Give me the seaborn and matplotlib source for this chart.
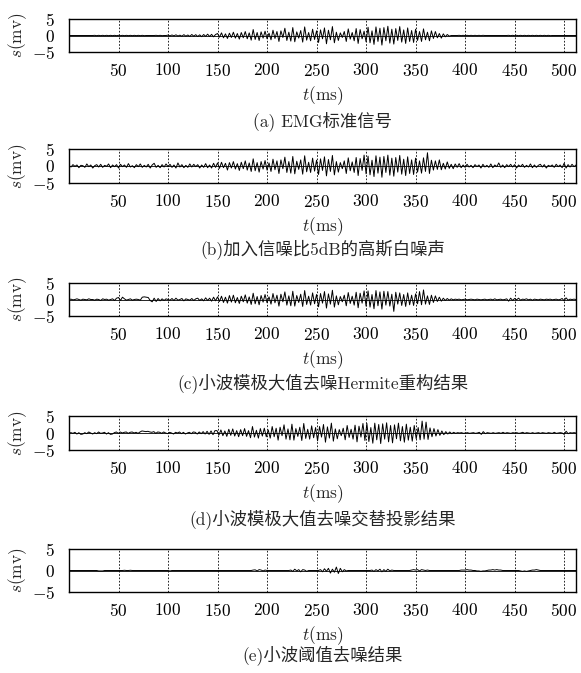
import numpy as np
import seaborn as sns
import matplotlib.pyplot as plt

# signals are sampled evenly over 0..512 ms
duration_ms = 512

# (a) clean EMG
emg_clean = [
    0, 0, 0, 0, 0, 0, 0, 0, 0, 0, 0, 0, 0,
    0.05, -0.05, 0.05, -0.05, 0.05, -0.05, 0.05, -0.05, 0.05, -0.05, 0.05, -0.05, 0.05,
    -0.05, 0.05, -0.05, 0.05, -0.05, 0.05, -0.05, 0.05, -0.05, 0.05, -0.05, 0.05, -0.05,
    0, 0, 0, 0, 0,
    0.05, -0.05, 0.05, -0.05,
    0, 0,
    0.1, -0.1, 0.15, -0.1, 0.2, -0.15, 0.1, -0.2, 0.25, -0.2, 0.15, -0.25, 0.3,
    -0.2, 0.25, -0.3, 0.2, -0.35, 0.3, -0.25, 0.4, -0.3, 0.35, -0.4, 0.3,
    0.6, -0.5, 0.8, -0.7, 0.5, -0.9, 0.7, -0.6, 1.0, -0.8, 0.6, -1.1, 0.9,
    -0.7, 1.2, -1.0, 0.8, -1.4, 1.8, -1.2, 0.9, -1.5, 1.1, -0.8, 1.3,
    -1.0, 0.7, -1.3, 1.6, -0.9, 1.2, -1.8, 1.4, -0.6, 2.2, -1.5, 1.0, -1.7,
    2.4, -1.9, 1.1, -0.8, 1.5, -2.0, 2.6, -1.4, 0.9, -1.6, 1.9, -1.2,
    1.4, -2.1, 1.7, -1.0, 2.3, -2.5, 1.6, -1.3, 2.7, -2.2, 1.0, -1.5, 0.8,
    -0.6, 1.2, -1.8, 2.0, -1.1, 0.9, -1.6, 2.1, -2.4, 1.8, -1.0, 1.3,
    -1.9, 2.5, -2.2, 1.4, -2.7, 2.6, -1.8, 2.2, -2.9, 2.4, -1.6, 2.8, -2.3,
    1.9, -2.6, 2.1, -1.5, 2.7, -2.0, 1.7, -2.4, 2.3, -1.8, 1.5, -2.1,
    1.9, -1.5, 1.2, -1.8, 2.0, -1.3, 1.0, -1.6, 1.4, -0.9, 1.2, -0.7, 0.6,
    -0.8, 0.5, -0.4, 0.3, -0.2,
    0, 0, 0, 0,
    0.05, -0.05, 0.05, -0.05, 0.05, -0.05, 0.05, -0.05, 0.05, -0.05, 0.05, -0.05, 0.05,
    0, 0, 0, 0, 0, 0, 0, 0, 0, 0, 0, 0,
    0.05, -0.05, 0.05, -0.05, 0.05, -0.05, 0.05, -0.05, 0.05, -0.05, 0.05,
    -0.05, 0.05, -0.05, 0.05, -0.05, 0.05, -0.05, 0.05, -0.05, 0.05, -0.05,
    0, 0, 0, 0, 0, 0, 0, 0, 0, 0, 0, 0, 0,
]

# (b) with 5 dB gaussian white noise
emg_noisy = [
    0.2, -0.3, 0.4, -0.1, 0.3, -0.5, 0.2, 0.1, -0.4, 0.6, -0.2, 0.3, -0.6,
    0.1, 0.4, -0.3, 0.5, -0.4, 0.2, -0.1, 0.6, -0.5, 0.3, -0.2, 0.4,
    -0.6, 0.5, -0.2, 0.3, -0.4, 0.7, -0.3, 0.1, -0.5, 0.4, -0.2, 0.6, -0.4,
    0.2, -0.3, 0.5, -0.6, 0.3, 0.8, -0.4, 0.2, -0.5, 0.4, -0.3, 0.6,
    -0.2, 0.5, -0.4, 0.3, -0.6, 0.9, -0.3, 0.4, -0.5, 0.2, -0.4, 0.6, -0.3,
    0.5, -0.2, 0.4, -0.6, 0.3, -0.4, 0.7, -0.5, 0.3, -0.6, 0.8, -0.4,
    0.9, -0.7, 1.1, -0.5, 0.8, -1.2, 1.0, -0.6, 1.3, -0.9, 0.7, -1.3, 1.1,
    -0.8, 1.5, -1.2, 0.9, -1.6, 2.1, -1.4, 1.0, -1.8, 1.3, -0.9, 1.6,
    -1.2, 0.9, -1.6, 2.0, -1.1, 1.5, -2.2, 1.8, -0.8, 2.6, -1.9, 1.3, -2.1,
    2.8, -2.3, 1.4, -1.0, 1.8, -2.4, 3.0, -1.7, 1.1, -1.9, 2.3, -1.5,
    1.7, -2.5, 2.1, -1.3, 2.7, -2.9, 1.9, -1.6, 3.1, -2.6, 1.3, -1.8, 1.0,
    -0.8, 1.5, -2.2, 2.4, -1.4, 1.2, -1.9, 2.5, -2.8, 2.2, -1.3, 3.2,
    -2.3, 2.9, -2.6, 1.7, -3.1, 3.0, -2.1, 2.6, -3.3, 2.8, -1.9, 3.2, -2.7,
    2.3, -3.0, 2.5, -1.8, 3.1, -2.4, 2.0, -2.8, 2.7, -2.2, 1.8, -2.5,
    2.3, -1.8, 1.5, -2.1, 2.4, -1.6, 3.9, -2.2, 1.7, -1.2, 1.5, -1.0, 1.8,
    -1.1, 0.8, -0.9, 1.2, -0.7, 0.5, -0.8, 0.6, -0.4, 0.7, -0.5, 0.3,
    -0.4, 0.5, -0.3, 0.2, -0.5, 0.4, -0.2, 0.3, -0.6, 0.5, -0.3, 0.2, -0.4,
    0.6, -0.5, 0.3, -0.2, 0.9, -0.4, 0.3, -0.5, 0.4, -0.2, 0.5, -0.3,
    0.4, -0.6, 0.3, -0.2, 0.5, -0.4, 0.2, -0.3, 0.6, -0.5, 0.3, -0.4, 0.2,
    0.5, -0.3, 0.4, -0.6, 0.2, -0.1, 0.3, -0.4, 0.5, -0.2, 0.3, -0.5,
    0.8, -0.6, 0.4, -0.3, 0.5, -0.2, 0.3,
]

# (c) wavelet modulus maxima + Hermite reconstruction
emg_hermite = [
    0, 0.1, -0.1, 0, 0.2, 0, -0.2, 0.1, 0, -0.1, 0.2, 0, 0,
    -0.2, 0.1, 0, -0.3, 0.2, 0, 0.1, -0.2, 0, 0.2, -0.3, 0.4,
    0.6, -0.3, 0.7, 0.2, -0.2, 0, 0.2, -0.2, 0, 0.1, 0, -0.2, 0.7,
    0.8, 0.7, 0.6, -0.3, -0.7, 0.4, -0.6, 0.3, -0.4, 0.2, -0.3, 0.2,
    0, -0.2, 0.3, -0.3, 0.4, -0.2, 0, 0.3, -0.4, 0.2, 0, -0.2, 0.3,
    -0.3, 0.2, 0.4, -0.3, 0.2, -0.4, 0.5, -0.3, 0.4, -0.5, 0.7, -0.4,
    0.8, -0.6, 1.0, -0.9, 0.7, -1.1, 1.2, -0.8, 1.3, -1.0, 0.6, -1.2, 1.0,
    -0.7, 1.4, -1.1, 0.8, -1.5, 1.9, -1.3, 0.9, -1.6, 1.2, -0.8, 1.5,
    -1.0, 0.8, -1.4, 1.8, -1.0, 1.3, -2.0, 1.6, -0.7, 2.3, -1.7, 1.1, -1.9,
    2.5, -2.0, 1.2, -0.9, 1.6, -2.1, 2.7, -1.5, 1.0, -1.7, 2.0, -1.3,
    1.5, -2.2, 1.8, -1.1, 2.4, -2.6, 1.7, -1.4, 2.8, -2.3, 1.1, -1.6, 0.9,
    -0.7, 1.3, -1.9, 2.1, -1.2, 1.0, -1.7, 2.2, -2.5, 1.9, -1.1, 2.6,
    -2.0, 2.6, -2.3, 1.5, -2.8, 2.7, -1.9, 2.3, -2.9, 2.5, -1.7, 2.4, -2.0,
    1.6, -3.6, 2.2, -1.4, 2.0, -1.8, 1.5, -2.1, 2.0, -1.6, 1.3, -1.8,
    1.7, -1.3, 2.4, -1.6, 2.9, -1.4, 1.1, -1.5, 1.3, -0.9, 1.1, -0.6, 0.7,
    -0.5, 0.4, -0.3, 0.3, -0.2, 0.2, -0.1, 0.1, 0, 0.1, -0.1, 0,
    0.1, -0.1, 0, 0.1, 0, -0.1, 0.1, 0, -0.1, 0, 0.1, -0.1, 0,
    0.1, -0.1, 0.2, -0.1, 0, 0.1, -0.1, 0, 0.2, -0.5, 0.4, -0.3,
    0.3, -0.1, 0.4, -0.2, 0.1, 0, 0.2, -0.1, 0.1, -0.2, 0.1, 0, -0.1,
    0.1, 0, -0.1, 0.1, 0, 0.1, -0.1, 0, 0.1, -0.1, 0, 0.3,
    -0.4, 0.5, -0.2, 0.1, 0, 0.1, 0,
]

# (d) wavelet modulus maxima + alternating projection
emg_projection = [
    0, 0.1, -0.1, 0.2, -0.3, 0.1, -0.4, -0.3, 0.1, -0.2, 0.3, 0, -0.3,
    0.1, -0.2, 0.3, -0.1, 0, 0.2, -0.3, 0.1, -0.4, -0.3, 0.1, 0.3,
    -0.1, 0.3, 0, 0.2, 0.3, -0.1, 0.2, 0.3, 0, 0.2, -0.1, 0.3, 0.6,
    0.5, 0.4, 0.5, 0.3, 0.2, 0.4, -0.1, 0.3, 0.2, -0.1, 0.3, 0,
    -0.2, 0.2, 0, -0.3, 0.2, 0, 0.3, -0.2, 0.2, -0.3, 0, 0.2, -0.2,
    0.3, 0.2, -0.3, 0.3, -0.2, 0.4, -0.3, 0.5, -0.4, 0.6, -0.5, 0.7,
    0.7, -0.6, 0.9, -0.8, 0.6, -1.0, 1.1, -0.7, 1.2, -0.9, 0.7, -1.1, 1.0,
    -0.8, 1.3, -1.0, 0.7, -1.4, 1.9, -1.2, 0.8, -1.5, 1.3, -0.9, 1.4,
    -1.1, 0.9, -1.5, 1.9, -1.1, 1.4, -2.1, 1.7, -0.8, 2.4, -1.8, 1.2, -2.0,
    2.6, -2.1, 1.3, -1.0, 1.7, -2.2, 2.8, -1.6, 1.1, -1.8, 2.1, -1.4,
    1.6, -2.3, 1.9, -1.2, 2.5, -2.7, 1.8, -1.5, 2.9, -2.4, 1.2, -1.7, 1.0,
    -0.8, 1.4, -2.0, 2.2, -1.3, 1.1, -1.8, 2.3, -2.6, 2.0, -1.2, 2.8,
    -2.2, 2.8, -2.5, 1.6, -3.0, 2.9, -2.0, 2.5, -3.1, 2.7, -1.8, 3.0, -2.6,
    2.2, -2.9, 2.4, -1.7, 2.9, -2.3, 1.9, -2.7, 2.6, -2.1, 1.7, -2.4,
    2.2, -1.7, 1.6, -2.0, 3.5, -1.8, 3.2, -1.9, 1.5, -1.1, 1.3, -0.9, 1.0,
    -0.7, 0.6, -0.5, 0.4, -0.3, 0.3, -0.2, 0.2, -0.1, 0.1, 0, 0.1,
    -0.1, 0, 0.1, -0.1, 0, 0.1, -0.1, 0, 0.2, -0.4, 0.4, -0.2, 0.1,
    0, -0.1, 0.1, -0.1, 0, 0.1, -0.1, 0.2, -0.1, 0.1, 0, -0.1, 0.1,
    0, 0.1, -0.1, 0, 0.2, -0.1, 0.1, 0, -0.1, 0.1, -0.1, 0, 0.1,
    -0.1, 0.1, 0, -0.1, 0.1, 0, -0.1, 0.2, -0.1, 0, 0.1, 0,
    -0.4, 0.5, -0.2, 0.1, 0, 0.1, 0,
]

# (e) wavelet threshold denoising
emg_threshold = [
    0, 0, 0, 0, 0, 0, 0, 0, 0, 0, 0, 0, 0,
    0, 0, -0.1, -0.1, -0.1, 0, 0, 0, 0, 0, 0, 0,
    0, 0, 0, 0.05, 0, 0, 0.05, 0, 0, 0, 0, 0, 0,
    0, 0, 0, 0, 0, 0, 0, 0, 0, 0, 0, 0,
    0, -0.1, 0, 0, 0, 0, 0, 0, 0, 0, 0, 0, 0,
    0, 0, 0, 0, 0, 0, 0, 0, 0, 0, 0, 0,
    0, 0, 0, 0, 0, 0, 0, 0, 0, 0, 0, 0, 0,
    0, 0, 0, 0, 0, 0.1, 0.15, -0.1, 0.2, 0.1, -0.1, 0.1,
    0, 0, 0, 0, 0, 0, 0, 0, 0, 0, 0, 0, 0.1,
    -0.2, 0.3, -0.1, 0.2, -0.3, 0.2, 0.1, -0.2, 0, 0, 0, 0,
    0, 0, 0.2, -0.3, 0.4, -0.2, 0.5, -0.6, 0.3, -0.4, 0.8, -0.7, 0.5,
    -0.3, 0.2, -0.1, 0, 0, 0, 0, 0, 0, 0, 0, 0,
    0, 0, 0, 0.1, -0.2, 0.2, -0.1, 0.3, -0.3, 0.2, -0.2, 0.3, -0.1,
    0.1, 0, 0, 0, 0, 0, 0, 0, 0, 0, 0.1, 0.2,
    0.1, 0.2, -0.1, 0.2, 0.1, 0, 0.1, 0, 0, 0, 0, 0, 0,
    0, 0, 0, 0, 0, 0, 0, 0, 0, 0, 0.1, 0.1,
    0.1, 0.2, 0.1, 0.1, 0, 0, -0.1, -0.1, -0.2, -0.1, -0.1, 0, 0.1,
    0.1, 0.2, 0.1, 0.2, 0.1, 0.1, 0, 0, 0, 0, 0, 0,
    0, 0, 0, -0.1, -0.2, -0.1, -0.2, -0.1, 0, 0.1, 0.1, 0.2, 0.1,
    0, 0, 0, 0, 0, 0, 0, 0, 0, 0, 0, 0,
    0, 0, 0, 0, 0, 0, 0,
]

captions = [
    "(a) EMG标准信号",
    "(b)加入信噪比5dB的高斯白噪声",
    "(c)小波模极大值去噪Hermite重构结果",
    "(d)小波模极大值去噪交替投影结果",
    "(e)小波阈值去噪结果",
]
signals = [emg_clean, emg_noisy, emg_hermite, emg_projection, emg_threshold]
xticks = [50, 100, 150, 200, 250, 300, 350, 400, 450, 500]
yticks = [-5, 0, 5]

sns.set_style("white")
plt.rcParams['font.family'] = ['cmr10', 'Noto Sans CJK SC']
plt.rcParams['mathtext.fontset'] = 'cm'
plt.rcParams['axes.formatter.use_mathtext'] = True

W, H = 581, 673
fig = plt.figure(figsize=(W / 100, H / 100), dpi=100)

# pixel boxes (top, bottom) of each panel, and caption centre rows
boxes = [(19, 52), (149, 183), (283, 316), (416, 450), (549, 592)]
caption_y = [121, 250, 383, 519, 655]
left_px, right_px = 69, 576

for sig, cap, (top, bot), cy in zip(signals, captions, boxes, caption_y):
    ax = fig.add_axes([left_px / W, 1 - bot / H, (right_px - left_px) / W, (bot - top) / H])
    t = np.linspace(0, duration_ms, len(sig))
    sns.lineplot(x=t, y=sig, ax=ax, color='k', lw=0.7)
    ax.set_xlim(0, duration_ms)
    ax.set_ylim(-5, 5)
    ax.set_xticks(xticks, labels=[f'${v}$' for v in xticks])
    ax.set_yticks(yticks, labels=[f'${v}$' for v in yticks])
    ax.tick_params(direction='in', length=2, labelsize=12.5, colors='k')
    ax.tick_params(axis='x', pad=7)
    ax.tick_params(axis='y', pad=10)
    ax.grid(axis='x', color='k', ls=(0, (2, 2)), lw=0.6)
    ax.grid(axis='y', color='k', ls='-', lw=0.6)
    for s in ax.spines.values():
        s.set_linewidth(1.0)
        s.set_color('k')
    ax.set_xlabel(r'$t(\mathrm{ms})$', fontsize=12.5, labelpad=4)
    ax.set_ylabel(r'$s(\mathrm{mv})$', fontsize=12.5, labelpad=2)
    fig.text((left_px + right_px) / 2 / W, 1 - cy / H, cap,
             ha='center', va='center', fontsize=12.5)

fig.savefig('out.png', dpi=100)
